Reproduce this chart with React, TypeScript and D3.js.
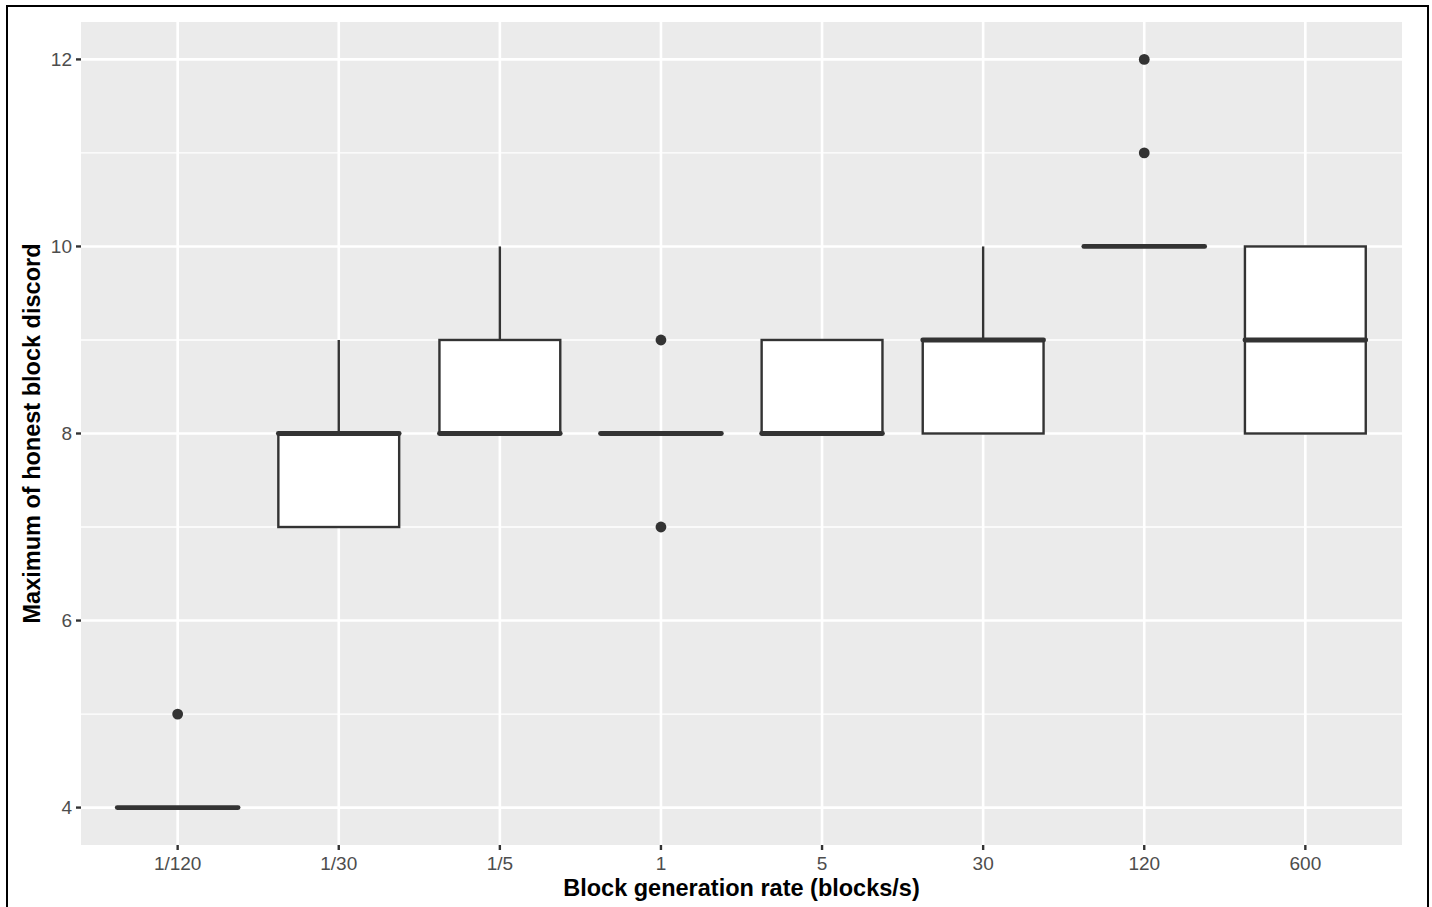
import React from 'react';
import * as d3 from 'd3';

// categories on the x axis
const rates = ['1/120', '1/30', '1/5', '1', '5', '30', '120', '600'];

// box statistics, one entry per category
const lower = [4, 7, 8, 8, 8, 8, 10, 8];
const middle = [4, 8, 8, 8, 8, 9, 10, 9];
const upper = [4, 8, 9, 8, 9, 9, 10, 10];
const whiskerLow = [4, 7, 8, 8, 8, 8, 10, 8];
const whiskerHigh = [4, 9, 10, 8, 9, 10, 10, 10];
const outliers = [[5], [], [], [9, 7], [], [], [11, 12], []];

const yMajor = [4, 6, 8, 10, 12];
const yMinor = [5, 7, 9, 11];

const W = 1432;
const H = 907;
const margin = { top: 22, right: 30, bottom: 62, left: 81 };
const FONT = '"Liberation Sans", Arial, Helvetica, sans-serif';

export default function App() {
    const innerW = W - margin.left - margin.right;
    const innerH = H - margin.top - margin.bottom;

    // ggplot style discrete expansion: 0.6 units each side
    const x = d3.scaleLinear()
        .domain([-0.6, rates.length - 1 + 0.6])
        .range([0, innerW]);
    const bw = (x(1) - x(0)) * 0.75;

    // continuous expansion 5% of range
    const y = d3.scaleLinear()
        .domain([3.6, 12.4])
        .range([innerH, 0]);

    const dark = '#333333';

    return (
        <svg width={W} height={H} style={{ position: 'absolute', left: 0, top: 0, background: '#fff' }}>
            <rect x={7} y={6} width={1421} height={920} fill="white" stroke="black" strokeWidth={2} />
            <g transform={`translate(${margin.left},${margin.top})`}>
                <rect width={innerW} height={innerH} fill="#EBEBEB" />
                {yMinor.map(v => (
                    <line key={'mi' + v} x1={0} x2={innerW} y1={y(v)} y2={y(v)} stroke="white" strokeWidth={1.3} />
                ))}
                {yMajor.map(v => (
                    <line key={'ma' + v} x1={0} x2={innerW} y1={y(v)} y2={y(v)} stroke="white" strokeWidth={2.6} />
                ))}
                {rates.map((r, i) => (
                    <line key={'gx' + r} x1={x(i)} x2={x(i)} y1={0} y2={innerH} stroke="white" strokeWidth={2.6} />
                ))}

                {rates.map((r, i) => {
                    const cx = x(i);
                    return (
                        <g key={'box' + r}>
                            <line x1={cx} x2={cx} y1={y(upper[i])} y2={y(whiskerHigh[i])} stroke={dark} strokeWidth={2.4} />
                            <line x1={cx} x2={cx} y1={y(lower[i])} y2={y(whiskerLow[i])} stroke={dark} strokeWidth={2.4} />
                            <rect x={cx - bw / 2} y={y(upper[i])} width={bw}
                                height={Math.max(0, y(lower[i]) - y(upper[i]))}
                                fill="white" stroke={dark} strokeWidth={2.4} />
                            <line x1={cx - bw / 2} x2={cx + bw / 2} y1={y(middle[i])} y2={y(middle[i])}
                                stroke={dark} strokeWidth={4.8} strokeLinecap="round" />
                            {outliers[i].map(o => (
                                <circle key={'o' + o} cx={cx} cy={y(o)} r={5.4} fill={dark} />
                            ))}
                        </g>
                    );
                })}

                {/* y axis */}
                {yMajor.map(v => (
                    <g key={'yt' + v} transform={`translate(0,${y(v)})`}>
                        <line x1={-5} x2={0} stroke={dark} strokeWidth={2.4} />
                        <text x={-9} dy="0.36em" textAnchor="end" fontFamily={FONT} fontSize={19} fill="#4D4D4D">{v}</text>
                    </g>
                ))}
                {/* x axis */}
                {rates.map((r, i) => (
                    <g key={'xt' + r} transform={`translate(${x(i)},${innerH})`}>
                        <line y1={0} y2={5} stroke={dark} strokeWidth={2.4} />
                        <text y={24.5} textAnchor="middle" fontFamily={FONT} fontSize={19} fill="#4D4D4D">{r}</text>
                    </g>
                ))}
            </g>
            <text x={margin.left + innerW / 2} y={896} textAnchor="middle" fontFamily={FONT}
                fontSize={23.5} fontWeight="bold" fill="black">Block generation rate (blocks/s)</text>
            <text transform={`translate(40,${margin.top + innerH / 2}) rotate(-90)`} textAnchor="middle"
                fontFamily={FONT} fontSize={23.5} fontWeight="bold" fill="black">Maximum of honest block discord</text>
        </svg>
    );
}
